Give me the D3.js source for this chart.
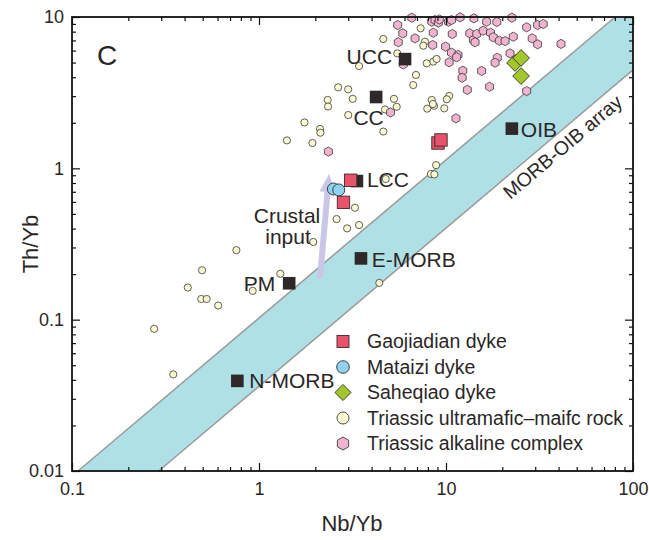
<!DOCTYPE html>
<html>
<head>
<meta charset="utf-8">
<script src="https://cdn.jsdelivr.net/npm/d3@7"></script>
<style>
  body { margin: 0; background: #fff; }
  text { font-family: Arial, "Liberation Sans", sans-serif; fill: #2b2626; }
</style>
</head>
<body>
<div id="plot"></div>
<script>
// reference reservoirs (Nb/Yb, Th/Yb)
const refNames = ["UCC", "CC", "LCC", "OIB", "E-MORB", "PM", "N-MORB"];
const refNb = [6.04, 4.23, 3.34, 22.5, 3.51, 1.45, 0.766];
const refTh = [5.27, 2.96, 0.824, 1.83, 0.254, 0.174, 0.0394];

// Gaojiadian dyke
const gaoNb = [9.06, 9.4, 3.09, 2.83];
const gaoTh = [1.47, 1.54, 0.834, 0.596];
// Mataizi dyke
const matNb = [2.5, 2.67];
const matTh = [0.73, 0.72];
// Saheqiao dyke
const sahNb = [23.4, 25.2, 25.2];
const sahTh = [4.97, 5.36, 4.07];

// Triassic ultramafic-mafic rock
const ultraNb = [0.275, 0.348, 0.416, 0.496, 0.491, 0.525, 0.605, 0.757, 1.30, 0.925,
  1.75, 1.41, 1.93, 2.12, 2.13, 2.33, 2.34, 1.95, 3.00, 4.62,
  3.26, 2.60, 2.96, 3.43, 4.76, 8.85, 8.31, 8.66, 4.40, 4.62,
  3.43, 5.49, 7.32, 7.72, 7.56, 8.55, 7.89, 8.91, 6.91, 6.68,
  2.65, 3.00, 3.17, 5.27, 5.45, 4.72, 8.39, 8.63, 10.4, 10.1,
  9.79, 7.94, 8.51];
const ultraTh = [0.087, 0.0435, 0.163, 0.212, 0.137, 0.137, 0.124, 0.288, 0.201, 0.155,
  2.01, 1.53, 1.47, 1.82, 1.72, 2.83, 2.56, 0.326, 2.25, 1.75,
  0.549, 0.462, 0.401, 0.422, 0.85, 1.05, 0.917, 0.912, 0.175, 7.16,
  4.74, 5.75, 8.42, 6.87, 6.46, 5.07, 4.94, 5.28, 4.14, 3.55,
  3.43, 3.33, 2.88, 2.88, 2.55, 2.45, 2.83, 2.59, 3.01, 2.86,
  2.49, 2.48, 2.66];

// Triassic alkaline complex
const alkNb = [5.52, 5.87, 5.56, 6.83, 6.56, 8.39, 8.55, 8.49, 8.73, 9.10,
  9.21, 10.3, 10.7, 10.8, 9.95, 10.7, 11.6, 11.4, 10.4, 12.3,
  12.2, 13.0, 11.3, 5.05, 5.91, 11.9, 13.4, 14.0, 14.6, 14.3,
  15.8, 16.5, 17.3, 17.9, 19.3, 20.7, 22.9, 22.0, 18.8, 18.3,
  15.5, 17.1, 27.0, 30.9, 33.1, 28.9, 30.9, 41.2, 27.0, 2.35,
  14.1, 18.7, 22.5];
const alkTh = [8.85, 7.80, 6.81, 7.22, 9.9, 9.31, 7.87, 6.53, 9.55, 9.17,
  9.63, 9.31, 9.55, 7.72, 6.37, 5.81, 5.61, 5.42, 5.02, 4.42,
  3.97, 3.30, 2.14, 2.34, 4.86, 9.95, 7.80, 7.05, 7.72, 6.81,
  8.12, 9.31, 7.87, 7.35, 6.97, 6.93, 7.41, 5.75, 5.38, 4.99,
  4.40, 3.46, 8.55, 8.85, 8.99, 7.22, 6.60, 6.64, 3.24, 1.29,
  9.8, 9.27, 9.9];

// MORB-OIB array boundaries
const bandUpperNb = [0.1077, 80.2];
const bandUpperTh = [0.01, 10];
const bandLowerNb = [0.291, 100];
const bandLowerTh = [0.01, 4.47];

// crustal input arrow
const arrowNb = [2.12, 2.37];
const arrowTh = [0.188, 0.916];

const xTicksMajor = [0.1, 1, 10, 100];
const yTicksMajor = [0.01, 0.1, 1, 10];
const legendLabels = ["Gaojiadian dyke", "Mataizi dyke", "Saheqiao dyke",
  "Triassic ultramafic\u2013maifc rock", "Triassic alkaline complex"];

const width = 649, height = 540;
const svg = d3.select("#plot").append("svg")
  .attr("width", width).attr("height", height);

const x = d3.scaleLog().domain([0.1, 100]).range([72, 633]);
const y = d3.scaleLog().domain([0.01, 10]).range([471, 17]);

// band
const bandPts = [
  [bandUpperNb[0], bandUpperTh[0]], [bandUpperNb[1], bandUpperTh[1]], [100, 10],
  [bandLowerNb[1], bandLowerTh[1]], [bandLowerNb[0], bandLowerTh[0]]
];
svg.append("path")
  .attr("d", d3.line().x(d => x(d[0])).y(d => y(d[1]))(bandPts) + "Z")
  .attr("fill", "#afe0e6");
[[bandUpperNb, bandUpperTh], [bandLowerNb, bandLowerTh]].forEach(([nb, th]) => {
  svg.append("line")
    .attr("x1", x(nb[0])).attr("y1", y(th[0]))
    .attr("x2", x(nb[1])).attr("y2", y(th[1]))
    .attr("stroke", "#9a9a9a").attr("stroke-width", 1.5);
});

// band label
const angle = Math.atan2(y(bandUpperTh[1]) - y(bandUpperTh[0]), x(bandUpperNb[1]) - x(bandUpperNb[0])) * 180 / Math.PI;
svg.append("text")
  .attr("transform", `translate(567,152) rotate(${angle})`)
  .attr("text-anchor", "middle")
  .style("font-size", "19.5px")
  .text("MORB-OIB array");

// crustal input arrow
{
  const x0 = x(arrowNb[0]), y0 = y(arrowTh[0]), x1 = x(arrowNb[1]), y1 = y(arrowTh[1]);
  const len = Math.hypot(x1 - x0, y1 - y0);
  const ux = (x1 - x0) / len, uy = (y1 - y0) / len, px = -uy, py = ux;
  const sw = 3, hw = 8, hl = 18;
  const bx = x1 - ux * hl, by = y1 - uy * hl;
  const pts = [
    [x0 + px * sw, y0 + py * sw], [bx + px * sw, by + py * sw], [bx + px * hw, by + py * hw],
    [x1, y1], [bx - px * hw, by - py * hw], [bx - px * sw, by - py * sw], [x0 - px * sw, y0 - py * sw]
  ];
  svg.append("polygon").attr("points", pts.map(p => p.join(",")).join(" "))
    .attr("fill", "#c9c6e6");
}
svg.append("text").attr("x", 287).attr("y", 223).attr("text-anchor", "middle")
  .style("font-size", "21px").text("Crustal");
svg.append("text").attr("x", 288).attr("y", 244).attr("text-anchor", "middle")
  .style("font-size", "21px").text("input");

// hexagon path
function hexPath(r) {
  const p = d3.path();
  for (let i = 0; i < 6; i++) {
    const a = Math.PI / 3 * i - Math.PI / 2;
    if (i === 0) p.moveTo(r * Math.cos(a), r * Math.sin(a));
    else p.lineTo(r * Math.cos(a), r * Math.sin(a));
  }
  p.closePath();
  return p.toString();
}

const ultra = ultraNb.map((d, i) => [d, ultraTh[i]]);
const alk = alkNb.map((d, i) => [d, alkTh[i]]);

svg.append("g").selectAll("circle").data(ultra).join("circle")
  .attr("cx", d => x(d[0])).attr("cy", d => y(d[1])).attr("r", 3.6)
  .attr("fill", "#fdf9d0").attr("stroke", "#3a3a3a").attr("stroke-width", 0.8);

svg.append("g").selectAll("path").data(alk).join("path")
  .attr("transform", d => `translate(${x(d[0])},${y(d[1])})`)
  .attr("d", hexPath(4.6))
  .attr("fill", "#f1b3cf").attr("stroke", "#3a3a3a").attr("stroke-width", 0.8);

// reference squares and labels
const refs = refNames.map((n, i) => ({ name: n, nb: refNb[i], th: refTh[i] }));
const labelPos = {
  "UCC": [-13, 4.5, "end"], "CC": [-7.5, 28, "middle"], "LCC": [10, 6, "start"],
  "OIB": [9, 8, "start"], "E-MORB": [10.7, 8.4, "start"], "PM": [-14, 8, "end"],
  "N-MORB": [12, 7.5, "start"]
};
svg.append("g").selectAll("rect").data(refs).join("rect")
  .attr("x", d => x(d.nb) - 6.3).attr("y", d => y(d.th) - 6.3)
  .attr("width", 12.6).attr("height", 12.6).attr("fill", "#2f2828");
svg.append("g").selectAll("text").data(refs).join("text")
  .attr("x", d => x(d.nb) + labelPos[d.name][0])
  .attr("y", d => y(d.th) + labelPos[d.name][1])
  .attr("text-anchor", d => labelPos[d.name][2])
  .style("font-size", "21px")
  .text(d => d.name);

// samples
svg.append("g").selectAll("rect").data(gaoNb.map((d, i) => [d, gaoTh[i]])).join("rect")
  .attr("x", d => x(d[0]) - 6.2).attr("y", d => y(d[1]) - 6.2)
  .attr("width", 12.4).attr("height", 12.4)
  .attr("fill", "#e8526a").attr("stroke", "#3a2a2a").attr("stroke-width", 0.9);
svg.append("g").selectAll("circle").data(matNb.map((d, i) => [d, matTh[i]])).join("circle")
  .attr("cx", d => x(d[0])).attr("cy", d => y(d[1])).attr("r", 6)
  .attr("fill", "#8fd3f0").attr("stroke", "#2f2f2f").attr("stroke-width", 0.9);
svg.append("g").selectAll("path").data(sahNb.map((d, i) => [d, sahTh[i]])).join("path")
  .attr("transform", d => `translate(${x(d[0])},${y(d[1])}) rotate(45)`)
  .attr("d", d3.symbol(d3.symbolSquare, 140)())
  .attr("fill", "#a3c62b").attr("stroke", "#3a3a2a").attr("stroke-width", 0.9);

// legend
const legend = svg.append("g");
legendLabels.forEach((lab, i) => {
  const ly = 341.5 + i * 25.5, lx = 343;
  let m;
  if (i === 0) m = legend.append("rect").attr("x", lx - 6).attr("y", ly - 6).attr("width", 12).attr("height", 12)
    .attr("fill", "#e8526a").attr("stroke", "#3a2a2a");
  else if (i === 1) m = legend.append("circle").attr("cx", lx).attr("cy", ly).attr("r", 6.3).attr("fill", "#8fd3f0").attr("stroke", "#2f2f2f");
  else if (i === 2) m = legend.append("path").attr("transform", `translate(${lx},${ly}) rotate(45)`)
    .attr("d", d3.symbol(d3.symbolSquare, 130)()).attr("fill", "#a3c62b").attr("stroke", "#3a3a2a");
  else if (i === 3) m = legend.append("circle").attr("cx", lx).attr("cy", ly).attr("r", 6).attr("fill", "#fdf9d0").attr("stroke", "#3a3a3a");
  else m = legend.append("path").attr("transform", `translate(${lx},${ly})`).attr("d", hexPath(6.5))
    .attr("fill", "#f1b3cf").attr("stroke", "#3a3a3a");
  m.attr("stroke-width", 0.9);
  legend.append("text").attr("x", 367).attr("y", ly + 6.5)
    .style("font-size", "19.5px").text(lab);
});

// axes with inward ticks on all sides
const xMinor = x.ticks().filter(v => !xTicksMajor.includes(v));
const yMinor = y.ticks().filter(v => !yTicksMajor.includes(v));
const fmt = d => String(d);

function drawAxis(axis, tr) {
  svg.append("g").attr("transform", tr).call(axis)
    .call(g => g.select(".domain").remove())
    .call(g => g.selectAll("line").attr("stroke", "#111").attr("stroke-width", 1.2))
    .call(g => g.selectAll("text").style("font-size", "18px")
      .style("font-family", "Arial, 'Liberation Sans', sans-serif").attr("fill", "#1e1a1a"));
}
drawAxis(d3.axisBottom(x).tickValues(xTicksMajor).tickSize(-8).tickPadding(11).tickFormat(fmt), "translate(0,471)");
drawAxis(d3.axisBottom(x).tickValues(xMinor).tickSize(-4).tickFormat(""), "translate(0,471)");
drawAxis(d3.axisTop(x).tickValues(xTicksMajor).tickSize(-8).tickFormat(""), "translate(0,17)");
drawAxis(d3.axisTop(x).tickValues(xMinor).tickSize(-4).tickFormat(""), "translate(0,17)");
drawAxis(d3.axisLeft(y).tickValues(yTicksMajor).tickSize(-8).tickPadding(8).tickFormat(fmt), "translate(72,0)");
drawAxis(d3.axisLeft(y).tickValues(yMinor).tickSize(-4).tickFormat(""), "translate(72,0)");
drawAxis(d3.axisRight(y).tickValues(yTicksMajor).tickSize(-8).tickFormat(""), "translate(633,0)");
drawAxis(d3.axisRight(y).tickValues(yMinor).tickSize(-4).tickFormat(""), "translate(633,0)");

svg.append("rect").attr("x", 72).attr("y", 17).attr("width", 561).attr("height", 454)
  .attr("fill", "none").attr("stroke", "#111").attr("stroke-width", 1.8);

// titles
svg.append("text").attr("x", 352).attr("y", 531).attr("text-anchor", "middle")
  .style("font-size", "22px").text("Nb/Yb");
svg.append("text").attr("transform", "translate(38,244) rotate(-90)").attr("text-anchor", "middle")
  .style("font-size", "22px").text("Th/Yb");
svg.append("text").attr("x", 97).attr("y", 65).style("font-size", "28px").text("C");
</script>
</body>
</html>
